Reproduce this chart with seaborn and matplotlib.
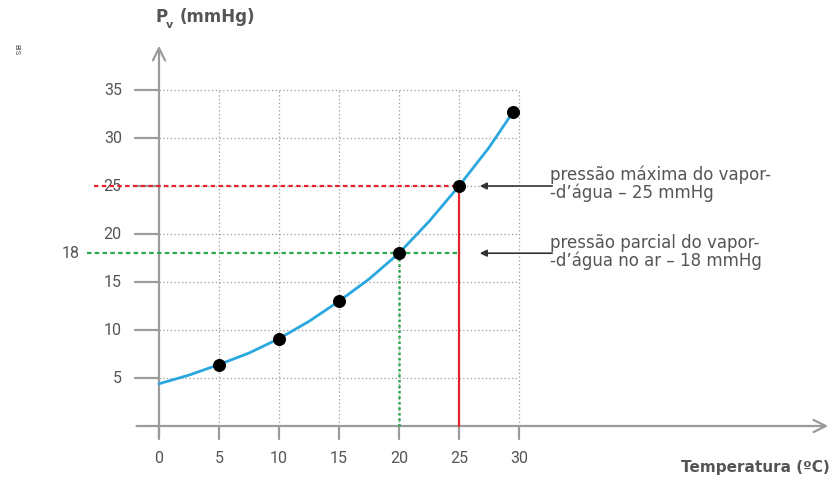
import numpy as np
import pandas as pd
import seaborn as sns
from matplotlib import pyplot as plt

# valores
temp_pts = [5, 10, 15, 20, 25, 29.5]
pv_pts = [6.4, 9.1, 13.0, 18.0, 25.0, 32.7]
temp_curve = [0, 2.5, 5, 7.5, 10, 12.5, 15, 17.5, 20, 22.5, 25, 27.5, 29.5]
pv_curve = [4.4, 5.3, 6.4, 7.6, 9.1, 10.9, 13.0, 15.3, 18.0, 21.3, 25.0, 29.0, 32.7]
xticks = [0, 5, 10, 15, 20, 25, 30]
yticks = [5, 10, 15, 20, 25, 30, 35]
p_max = 25      # pressão máxima (T = 25 °C)
p_parcial = 18  # pressão parcial (T = 20 °C)
t_max, t_parcial = 25, 20

sns.set_theme(style='white')
plt.rcParams['font.family'] = ['Roboto', 'DejaVu Sans']

gray = '#9b9b9b'
txt = '#555555'
blue = '#2aa7df'
red = '#e3242b'
green = '#2ea84f'

fig = plt.figure(figsize=(8.33, 4.79), dpi=100)
ax = fig.add_axes([0, 0, 1, 1])
ax.set_xlim(-13.25, 56.17)
ax.set_ylim(-5.52, 44.375)
ax.axis('off')

xmax, ymax = xticks[-1], yticks[-1]
# grade pontilhada
for x in xticks[1:]:
    ax.plot([x, x], [0, ymax], ls=(0, (1, 2)), color=gray, lw=0.9, zorder=1)
for y in yticks:
    ax.plot([0, xmax], [y, y], ls=(0, (1, 2)), color=gray, lw=0.9, zorder=1)

# eixos com setas
ax.annotate('', xy=(56.0, 0), xytext=(-2.1, 0),
            arrowprops=dict(arrowstyle='->', color=gray, lw=1.6, mutation_scale=22))
ax.annotate('', xy=(0, 39.9), xytext=(0, -1.5),
            arrowprops=dict(arrowstyle='->', color=gray, lw=1.6, mutation_scale=22))
for x in xticks:
    ax.plot([x, x], [0, -1.4], color=gray, lw=1.6, zorder=2)
    ax.text(x, -2.6, str(x), ha='center', va='top', fontsize=11.5, color=txt)
for y in yticks:
    ax.plot([-2.0, 0], [y, y], color=gray, lw=1.6, zorder=2)
    ax.text(-3.1, y, str(y), ha='right', va='center', fontsize=11.5, color=txt)

# linhas de referência
ax.plot([-5.4, t_max], [p_max, p_max], ls=(0, (2, 1.5)), color=red, lw=1.6, zorder=3)
ax.plot([t_max, t_max], [0, p_max], color=red, lw=1.6, zorder=3)
ax.plot([-6.0, t_max], [p_parcial, p_parcial], ls=(0, (2, 1.5)), color=green, lw=1.6, zorder=3)
ax.plot([t_parcial, t_parcial], [0, p_parcial], ls=(0, (1, 1.2)), color=green, lw=1.8, zorder=3)
ax.text(-7.4, p_parcial, str(p_parcial), ha='center', va='center', fontsize=11.5, color=txt)

# curva e pontos
curve = pd.DataFrame({'T': temp_curve, 'Pv': pv_curve})
pts = pd.DataFrame({'T': temp_pts, 'Pv': pv_pts})
sns.lineplot(data=curve, x='T', y='Pv', ax=ax, color=blue, lw=2, zorder=4)
sns.scatterplot(data=pts, x='T', y='Pv', ax=ax, color='black', s=75, edgecolor='black', zorder=5)
ax.set_xlim(-13.25, 56.17)
ax.set_ylim(-5.52, 44.375)

# setas e textos explicativos
ax.annotate('', xy=(26.5, p_max), xytext=(33.0, p_max),
            arrowprops=dict(arrowstyle='-|>', color='#333333', lw=1.2, mutation_scale=10))
ax.annotate('', xy=(26.5, p_parcial), xytext=(33.0, p_parcial),
            arrowprops=dict(arrowstyle='-|>', color='#333333', lw=1.2, mutation_scale=10))
ax.text(32.6, 25.2, 'pressão máxima do vapor-\n-d’água – 25 mmHg', ha='left', va='center',
        fontsize=12, color=txt, linespacing=0.95, family='DejaVu Sans')
ax.text(32.6, 18.1, 'pressão parcial do vapor-\n-d’água no ar – 18 mmHg', ha='left', va='center',
        fontsize=12, color=txt, linespacing=0.95, family='DejaVu Sans')

# títulos dos eixos
ax.text(-0.3, 42.6, 'P', ha='left', va='center', fontsize=12, color=txt,
        fontweight='bold', family='DejaVu Sans')
ax.text(0.6, 41.8, 'v', ha='left', va='center', fontsize=8, color=txt,
        fontweight='bold', family='DejaVu Sans')
ax.text(1.75, 42.6, '(mmHg)', ha='left', va='center', fontsize=12, color=txt,
        fontweight='bold', family='DejaVu Sans')
ax.text(43.5, -4.3, 'Temperatura (ºC)', ha='left', va='center',
        fontsize=11, color=txt, fontweight='bold', family='DejaVu Sans')
ax.text(-11.9, 39.2, 'BIS', rotation=-90, ha='center', va='center', fontsize=5.5, color=txt)

fig.savefig('out.png', dpi=100)
